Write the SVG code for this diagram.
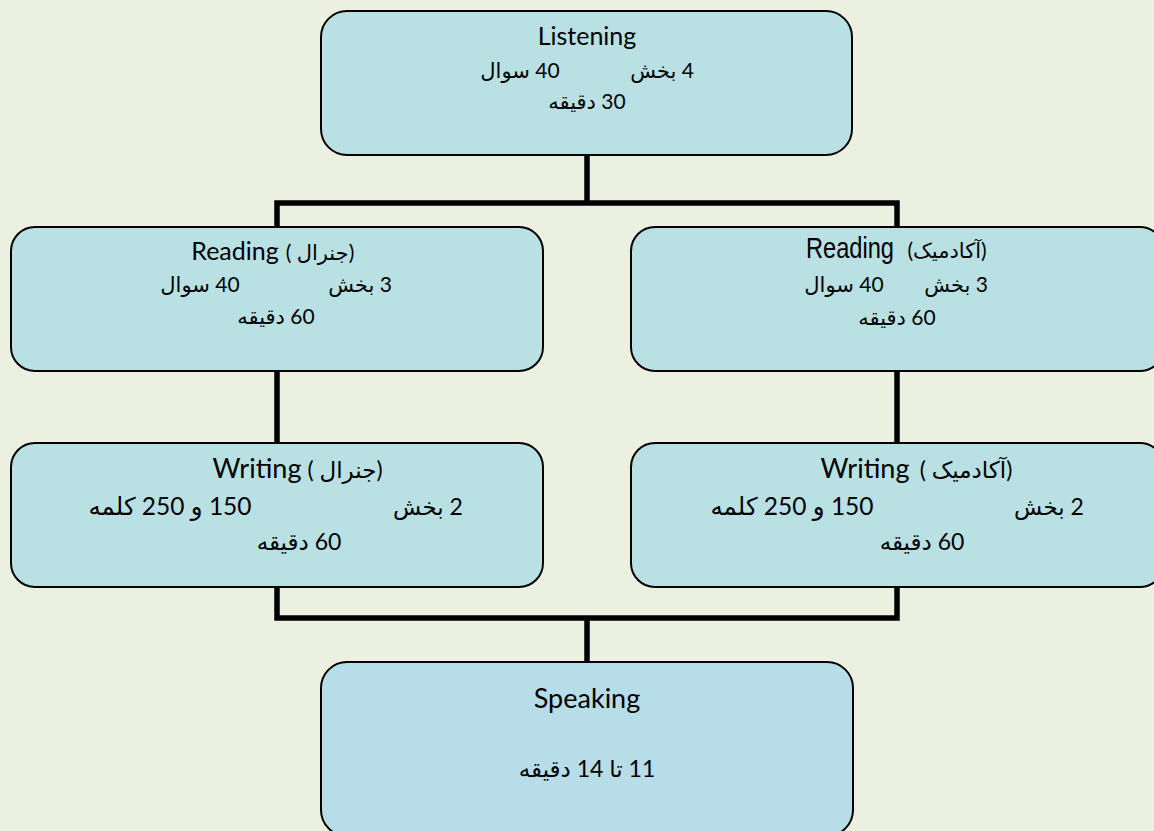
<svg xmlns="http://www.w3.org/2000/svg" width="1154" height="831" viewBox="0 0 1154 831">
<style>
.box{fill:#B9E0E3;stroke:#000;stroke-width:2}
.sp{fill:#B7DDE8}
.t{font-family:Lato,"DejaVu Sans",sans-serif;fill:#000;text-anchor:middle}
.ar{font-family:Lato,"DejaVu Sans",sans-serif;fill:#000;text-anchor:middle;direction:rtl;unicode-bidi:embed}
.s1{font-size:25px}
.a1{font-size:21px}
.s2{font-size:27px}
.a2{font-size:23px}
.a3{font-size:24.5px}
.cond{font-family:"Liberation Sans",Arial,sans-serif;font-size:29px}
.conn{fill:none;stroke:#000;stroke-width:5.5;stroke-linejoin:miter}
</style>
<rect x="0" y="0" width="1154" height="831" fill="#ECF0E0"/>
<g id="connectors">
<path class="conn" d="M587,155 V203"/>
<path class="conn" d="M277,227 V203 H897 V227"/>
<path class="conn" d="M277,371 V443"/>
<path class="conn" d="M897,371 V443"/>
<path class="conn" d="M277,587 V618 H897 V587"/>
<path class="conn" d="M587,618 V662"/>
</g>
<g id="listening">
<rect class="box" x="321" y="11" width="531" height="144" rx="26"/>
<text class="t s1" x="587" y="45">Listening</text>
<text class="ar a1" x="662" y="78">4 بخش</text>
<text class="ar a1" x="520" y="78">40 سوال</text>
<text class="ar a1" x="587" y="109">30 دقيقه</text>
</g>
<g id="reading-general">
<rect class="box" x="11" y="227" width="532" height="144" rx="24"/>
<text class="t s1" x="235" y="260">Reading</text>
<text class="ar a1" x="320" y="260">(جنرال )</text>
<text class="ar a1" x="360" y="292">3 بخش</text>
<text class="ar a1" x="200" y="292">40 سوال</text>
<text class="ar a1" x="276" y="324">60 دقيقه</text>
</g>
<g id="reading-academic">
<rect class="box" x="631" y="227" width="533" height="144" rx="24"/>
<text class="cond" x="894" y="258" text-anchor="end" textLength="88" lengthAdjust="spacingAndGlyphs">Reading</text>
<text class="ar a1" x="947" y="258">(آکادمیک)</text>
<text class="ar a1" x="956" y="292">3 بخش</text>
<text class="ar a1" x="844" y="292">40 سوال</text>
<text class="ar a1" x="897" y="325">60 دقيقه</text>
</g>
<g id="writing-general">
<rect class="box" x="11" y="443" width="532" height="144" rx="24"/>
<text class="t s2" x="257" y="478">Writing</text>
<text class="ar a2" x="345" y="478">(جنرال )</text>
<text class="ar a2" x="428" y="515">2 بخش</text>
<text class="ar a3" x="170" y="515">150 و 250 کلمه</text>
<text class="ar a2" x="299" y="550">60 دقيقه</text>
</g>
<g id="writing-academic">
<rect class="box" x="631" y="443" width="533" height="144" rx="24"/>
<text class="t s2" x="865" y="478">Writing</text>
<text class="ar a2" x="966" y="478">(آکادمیک )</text>
<text class="ar a2" x="1049" y="515">2 بخش</text>
<text class="ar a3" x="792" y="515">150 و 250 کلمه</text>
<text class="ar a2" x="922" y="550">60 دقيقه</text>
</g>
<g id="speaking">
<rect class="box sp" x="321" y="662" width="532" height="174" rx="26"/>
<text class="t s2" x="587" y="708">Speaking</text>
<text class="ar a2" x="587" y="777">11 تا 14 دقيقه</text>
</g>
</svg>
